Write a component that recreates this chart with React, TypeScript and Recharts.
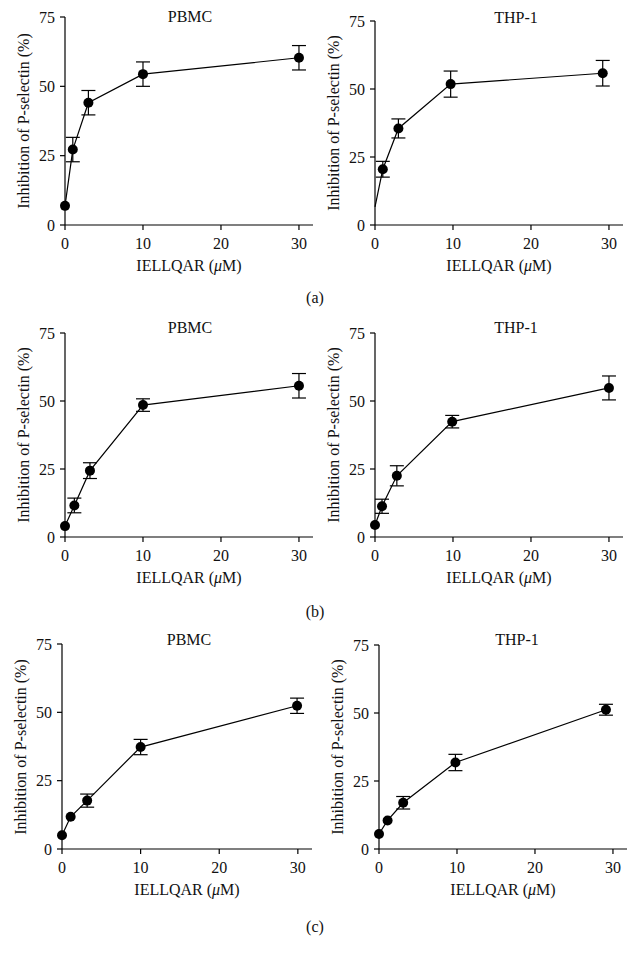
import React from "react";
import { LineChart, Line, XAxis, YAxis, ErrorBar } from "recharts";

// 読み取った値 (x: IELLQAR μM, y: 阻害率 %, err: ±SD)
const PBMC_A_X = [0, 1, 3, 10, 30];
const PBMC_A_Y = [6.9, 27.2, 44.1, 54.4, 60.3];
const PBMC_A_ERR = [0, 4.4, 4.4, 4.4, 4.4];

const THP1_A_X = [0, 1, 3, 9.7, 29.2];
const THP1_A_Y = [6.7, 20.5, 35.5, 51.8, 55.8];
const THP1_A_ERR = [0, 2.9, 3.5, 4.8, 4.7];

const PBMC_B_X = [0, 1.2, 3.2, 10, 30];
const PBMC_B_Y = [4.0, 11.6, 24.4, 48.5, 55.6];
const PBMC_B_ERR = [0, 2.7, 2.9, 2.3, 4.5];

const THP1_B_X = [0, 0.9, 2.8, 9.9, 30];
const THP1_B_Y = [4.4, 11.3, 22.5, 42.4, 54.8];
const THP1_B_ERR = [0, 2.6, 3.7, 2.3, 4.4];

const PBMC_C_X = [0, 1.1, 3.2, 10, 29.9];
const PBMC_C_Y = [5.0, 11.8, 17.7, 37.3, 52.4];
const PBMC_C_ERR = [0, 0, 2.4, 2.8, 2.8];

const THP1_C_X = [0, 1.1, 3.1, 9.8, 29.1];
const THP1_C_Y = [5.5, 10.5, 17.0, 31.8, 51.2];
const THP1_C_ERR = [0, 0, 2.3, 3.0, 2.0];

const X_TICKS = [0, 10, 20, 30];
const Y_TICKS = [0, 25, 50, 75];
const Y_LABEL = "Inhibition of P-selectin (%)";
const PANEL_LABELS = ["(a)", "(b)", "(c)"];

const FONT = "'Liberation Serif', 'DejaVu Serif', serif";
const INK = "#111";

interface Box {
  left: number;
  top: number;
  bottom: number;
  right: number;
}

interface PanelProps {
  xs: number[];
  ys: number[];
  errs: number[];
  title: string;
  titleX: number;
  titleY: number;
  box: Box;
  hideFirstDot?: boolean;
}

const abs = (cx: number, cy: number, rotate = false): React.CSSProperties => ({
  position: "absolute",
  left: cx,
  top: cy,
  transform: `translate(-50%, -50%)${rotate ? " rotate(-90deg)" : ""}`,
  whiteSpace: "nowrap",
  lineHeight: 1,
  fontFamily: FONT,
  fontSize: 16,
  color: INK,
});

const Panel: React.FC<PanelProps> = ({ xs, ys, errs, title, titleX, titleY, box, hideFirstDot }) => {
  const data = xs.map((v, i) => ({ dose: v, value: ys[i], err: errs[i] }));
  const chartLeft = box.left - 65;
  const chartTop = box.top - 25;
  const width = box.right - chartLeft + 10;
  const height = box.bottom - chartTop + 60;
  const tickStyle = { fill: INK, fontSize: 16, fontFamily: FONT };

  return (
    <>
      <div style={{ position: "absolute", left: chartLeft, top: chartTop }}>
        <LineChart
          width={width}
          height={height}
          data={data}
          margin={{ top: 25, right: 10, left: 0, bottom: 0 }}
        >
          <XAxis
            type="number"
            dataKey="dose"
            domain={[0, 31.8]}
            ticks={X_TICKS}
            height={60}
            tickSize={5}
            tickMargin={8}
            tick={tickStyle}
            axisLine={{ stroke: "#000", strokeWidth: 1.2 }}
            tickLine={{ stroke: "#000", strokeWidth: 1.2 }}
          />
          <YAxis
            type="number"
            domain={[0, 75]}
            ticks={Y_TICKS}
            width={65}
            tickSize={5}
            tickMargin={5}
            tick={tickStyle}
            axisLine={{ stroke: "#000", strokeWidth: 1.2 }}
            tickLine={{ stroke: "#000", strokeWidth: 1.2 }}
          />
          <Line
            type="linear"
            dataKey="value"
            stroke="#000"
            strokeWidth={1.2}
            isAnimationActive={false}
            activeDot={false}
            dot={(p: any) =>
              hideFirstDot && p.index === 0 ? (
                <g key={`d-${p.index}`} />
              ) : (
                <circle key={`d-${p.index}`} cx={p.cx} cy={p.cy} r={5} fill="#000" />
              )
            }
          >
            <ErrorBar dataKey="err" direction="y" width={7} stroke="#000" strokeWidth={1.2} />
          </Line>
        </LineChart>
      </div>
      <div style={abs(titleX, titleY)}>{title}</div>
      <div style={abs((box.left + box.right) / 2, box.bottom + 41)}>
        IELLQAR (<i>μ</i>M)
      </div>
      <div style={abs(box.left - 41, (box.top + box.bottom) / 2, true)}>{Y_LABEL}</div>
    </>
  );
};

export default function App() {
  return (
    <div
      style={{
        position: "absolute",
        left: 0,
        top: 0,
        width: 638,
        height: 955,
        background: "#fff",
        overflow: "hidden",
      }}
    >
      {/* (a) */}
      <Panel xs={PBMC_A_X} ys={PBMC_A_Y} errs={PBMC_A_ERR} title="PBMC" titleX={190} titleY={17}
        box={{ left: 65, top: 17, bottom: 225, right: 313 }} />
      <Panel xs={THP1_A_X} ys={THP1_A_Y} errs={THP1_A_ERR} title="THP-1" titleX={516} titleY={18}
        box={{ left: 375, top: 21, bottom: 225, right: 623 }} hideFirstDot />
      {/* (b) */}
      <Panel xs={PBMC_B_X} ys={PBMC_B_Y} errs={PBMC_B_ERR} title="PBMC" titleX={190} titleY={328}
        box={{ left: 65, top: 333, bottom: 537, right: 313 }} />
      <Panel xs={THP1_B_X} ys={THP1_B_Y} errs={THP1_B_ERR} title="THP-1" titleX={516} titleY={328}
        box={{ left: 375, top: 333, bottom: 537, right: 623 }} />
      {/* (c) */}
      <Panel xs={PBMC_C_X} ys={PBMC_C_Y} errs={PBMC_C_ERR} title="PBMC" titleX={189} titleY={640}
        box={{ left: 62, top: 644, bottom: 849, right: 312 }} />
      <Panel xs={THP1_C_X} ys={THP1_C_Y} errs={THP1_C_ERR} title="THP-1" titleX={517} titleY={640}
        box={{ left: 379, top: 645, bottom: 849, right: 627 }} />

      <div style={abs(315, 298)}>{PANEL_LABELS[0]}</div>
      <div style={abs(315, 612)}>{PANEL_LABELS[1]}</div>
      <div style={abs(315, 927)}>{PANEL_LABELS[2]}</div>
    </div>
  );
}
